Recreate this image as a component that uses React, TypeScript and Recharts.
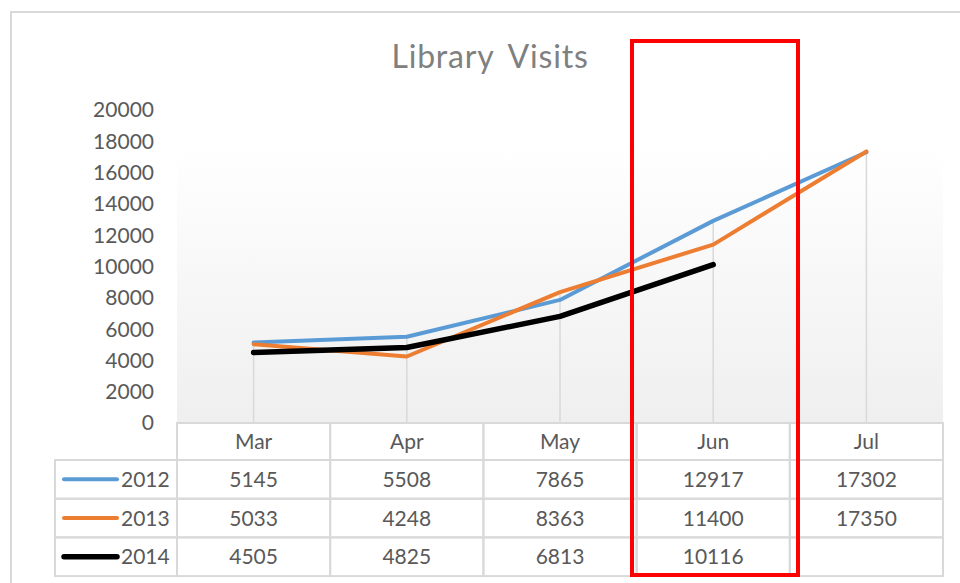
import { CartesianGrid, ComposedChart, Line, ReferenceLine, XAxis, YAxis } from 'recharts';

const months = ['Mar', 'Apr', 'May', 'Jun', 'Jul'];
const visits2012 = [5145, 5508, 7865, 12917, 17302];
const visits2013 = [5033, 4248, 8363, 11400, 17350];
const visits2014: (number | null)[] = [4505, 4825, 6813, 10116, null];
const yTicks = [0, 2000, 4000, 6000, 8000, 10000, 12000, 14000, 16000, 18000, 20000];
const highlighted = 'Jun';

const SERIES = [
  { key: 'y2012', name: '2012', values: visits2012, color: '#5b9bd5', width: 4 },
  { key: 'y2013', name: '2013', values: visits2013, color: '#ed7d31', width: 4 },
  { key: 'y2014', name: '2014', values: visits2014, color: '#000000', width: 5.5 },
];

const data = months.map((m, i) => {
  const row: Record<string, string | number | null> = { month: m };
  SERIES.forEach((s) => (row[s.key] = s.values[i]));
  return row;
});

// drop lines go from the highest value of each month down to 0
const peaks = months.map((m, i) => ({
  month: m,
  max: Math.max(...SERIES.map((s) => s.values[i] ?? 0)),
}));

const W = 960;
const H = 583;
const FONT = 'Lato, "Open Sans", sans-serif';
const TEXT = '#595959';
const GRID = '#d9d9d9';
const AXIS_W = 177; // y labels + left gutter
const RIGHT = 17;
const TOP = 110;
const TABLE_H = 160;
const HEAD_H = 37;
const ROW_H = 38.7;
const LEGEND_W = 122;

// one column of the data table, drawn as the x-axis tick
function TableColumn(props: any) {
  const { x, y, payload, width, visibleTicksCount } = props;
  const cw = width / visibleTicksCount;
  const left = x - cw / 2;
  const idx = months.indexOf(payload.value);
  return (
    <g fontFamily={FONT} fontSize={21} fill={TEXT}>
      <rect x={left} y={y} width={cw} height={HEAD_H} fill="none" stroke={GRID} strokeWidth={2} />
      <text x={x} y={y + HEAD_H / 2 - 1} textAnchor="middle" dominantBaseline="central" fill={TEXT}>
        {payload.value}
      </text>
      {SERIES.map((s, r) => {
        const top = y + HEAD_H + r * ROW_H;
        const v = s.values[idx];
        return (
          <g key={s.key}>
            <rect x={left} y={top} width={cw} height={ROW_H} fill="none" stroke={GRID} strokeWidth={2} />
            {v != null && (
              <text x={x} y={top + ROW_H / 2 - 1} textAnchor="middle" dominantBaseline="central" fill={TEXT}>
                {v}
              </text>
            )}
            {idx === 0 && (
              <g>
                <rect x={left - LEGEND_W} y={top} width={LEGEND_W} height={ROW_H} fill="none" stroke={GRID} strokeWidth={2} />
                <line
                  x1={left - LEGEND_W + 9}
                  x2={left - LEGEND_W + 62}
                  y1={top + ROW_H / 2}
                  y2={top + ROW_H / 2}
                  stroke={s.color}
                  strokeWidth={s.width}
                  strokeLinecap="round"
                />
                <text x={left - LEGEND_W + 66} y={top + ROW_H / 2 - 1} dominantBaseline="central" fill={TEXT}>
                  {s.name}
                </text>
              </g>
            )}
          </g>
        );
      })}
    </g>
  );
}

export default function App() {
  const plotW = W - AXIS_W - RIGHT;
  const band = plotW / months.length;
  const hiCenter = AXIS_W + band * (months.indexOf(highlighted) + 0.5);

  return (
    <div style={{ position: 'relative', width: W, height: H, overflow: 'hidden', background: '#fff' }}>
      <style>{'body{margin:0}'}</style>
      <div
        style={{
          position: 'absolute',
          left: 10,
          top: 11,
          width: 1000,
          height: 640,
          border: `2px solid ${GRID}`,
        }}
      />
      <div
        style={{
          position: 'absolute',
          left: 0,
          width: 980,
          top: 36,
          textAlign: 'center',
          fontFamily: FONT,
          fontSize: 32,
          color: '#808080',
          letterSpacing: 0.8,
          wordSpacing: 6,
        }}
      >
        Library Visits
      </div>
      <div style={{ position: 'absolute', left: 0, top: 0 }}>
        <ComposedChart width={W} height={H} data={data} margin={{ top: TOP, right: RIGHT, bottom: 0, left: 0 }}>
          <defs>
            <linearGradient id="plotBg" x1="0" y1="0" x2="0" y2="1">
              <stop offset="0" stopColor="#ffffff" />
              <stop offset="0.11" stopColor="#ffffff" />
              <stop offset="1" stopColor="#efefef" />
            </linearGradient>
          </defs>
          <CartesianGrid horizontal={false} vertical={false} fill="url(#plotBg)" />
          <XAxis
            dataKey="month"
            height={TABLE_H}
            axisLine={false}
            tickLine={false}
            tickSize={0}
            tickMargin={0}
            interval={0}
            padding={{ left: band / 2, right: band / 2 }}
            tick={<TableColumn />}
          />
          <YAxis
            width={AXIS_W}
            domain={[0, 20000]}
            ticks={yTicks}
            axisLine={false}
            tickLine={false}
            tickSize={0}
            tickMargin={23}
            tick={{ fill: TEXT, fontSize: 21, fontFamily: FONT }}
          />
          {peaks.map((p) => (
            <ReferenceLine
              key={p.month}
              segment={[
                { x: p.month, y: 0 },
                { x: p.month, y: p.max },
              ]}
              stroke={GRID}
              strokeWidth={1.5}
            />
          ))}
          {SERIES.map((s) => (
            <Line
              key={s.key}
              dataKey={s.key}
              stroke={s.color}
              strokeWidth={s.width}
              dot={false}
              activeDot={false}
              strokeLinecap="round"
              strokeLinejoin="round"
              isAnimationActive={false}
            />
          ))}
        </ComposedChart>
      </div>
      <div
        style={{
          position: 'absolute',
          left: hiCenter - 83,
          top: 39,
          width: 170,
          height: 538,
          boxSizing: 'border-box',
          border: '4px solid #ff0000',
        }}
      />
    </div>
  );
}
